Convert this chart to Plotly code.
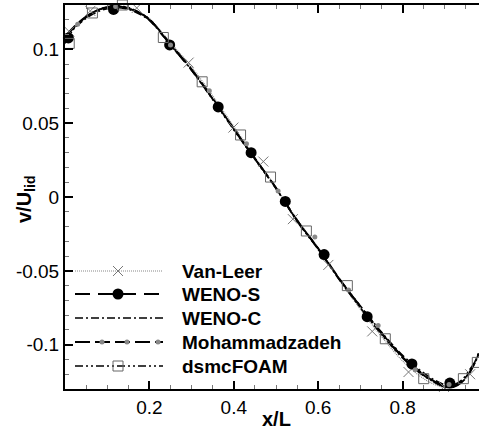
import plotly.graph_objects as go

# ---------------- data ----------------
xs = [0.00, 0.02, 0.04, 0.06, 0.08, 0.10, 0.12, 0.14, 0.16, 0.18, 0.20, 0.25, 0.30, 0.35, 0.40,
      0.45, 0.50, 0.55, 0.60, 0.65, 0.70, 0.75, 0.80, 0.84, 0.87, 0.90, 0.92, 0.94, 0.96, 0.98]

van_leer = [0.109, 0.1150, 0.1200, 0.1242, 0.1270, 0.1287, 0.1293, 0.1288, 0.1272, 0.1245, 0.1208,
            0.1045, 0.0880, 0.0685, 0.0478, 0.0270, 0.0065, -0.0150, -0.0345, -0.0560, -0.0760,
            -0.0945, -0.1110, -0.1210, -0.1262, -0.1290, -0.1288, -0.1255, -0.1185, -0.1070]
weno_s = [0.108, 0.1144, 0.1196, 0.1238, 0.1267, 0.1284, 0.1290, 0.1284, 0.1267, 0.1238, 0.1200,
          0.1030, 0.0860, 0.0665, 0.0460, 0.0260, 0.0060, -0.0160, -0.0350, -0.0555, -0.0740,
          -0.0920, -0.1080, -0.1180, -0.1240, -0.1280, -0.1283, -0.1250, -0.1180, -0.1060]
weno_c = [0.1075, 0.1138, 0.1188, 0.1228, 0.1257, 0.1275, 0.1282, 0.1277, 0.1261, 0.1233, 0.1196,
          0.1028, 0.0858, 0.0662, 0.0458, 0.0258, 0.0058, -0.0162, -0.0352, -0.0555, -0.0738,
          -0.0915, -0.1072, -0.1170, -0.1230, -0.1272, -0.1278, -0.1248, -0.1178, -0.1058]
mohammadzadeh = [0.1085, 0.1148, 0.1200, 0.1240, 0.1268, 0.1285, 0.1291, 0.1286, 0.1270, 0.1241, 0.1203,
                 0.1035, 0.0865, 0.0668, 0.0462, 0.0262, 0.0062, -0.0158, -0.0348, -0.0552, -0.0745,
                 -0.0925, -0.1085, -0.1185, -0.1245, -0.1285, -0.1288, -0.1255, -0.1185, -0.1065]
dsmcfoam = [0.104, 0.1135, 0.1193, 0.1240, 0.1270, 0.1288, 0.1295, 0.1290, 0.1273, 0.1243, 0.1204,
            0.1035, 0.0858, 0.0660, 0.0455, 0.0255, 0.0058, -0.0165, -0.0355, -0.0560, -0.0750,
            -0.0930, -0.1090, -0.1190, -0.1245, -0.1275, -0.1272, -0.1240, -0.1165, -0.1080]

# marker samples
vl_mx = [0.01, 0.06, 0.17, 0.293, 0.399, 0.47, 0.54, 0.624, 0.728, 0.814, 0.898, 0.96]
vl_my = [0.112, 0.126, 0.128, 0.091, 0.047, 0.024, -0.015, -0.046, -0.091, -0.1185, -0.1286, -0.120]
ws_mx = [0.008, 0.115, 0.248, 0.363, 0.441, 0.522, 0.614, 0.716, 0.822, 0.912, 0.982]
ws_my = [0.1077, 0.127, 0.103, 0.061, 0.030, -0.003, -0.039, -0.081, -0.113, -0.126, -0.106]
mz_mx = [0.03, 0.12, 0.25, 0.342, 0.43, 0.505, 0.592, 0.672, 0.742, 0.83, 0.91]
mz_my = [0.117, 0.129, 0.103, 0.072, 0.036, 0.004, -0.027, -0.063, -0.087, -0.117, -0.127]
ds_mx = [0.01, 0.065, 0.136, 0.233, 0.325, 0.416, 0.487, 0.572, 0.669, 0.759, 0.850, 0.944, 0.977]
ds_my = [0.104, 0.1246, 0.130, 0.108, 0.078, 0.042, 0.0135, -0.023, -0.060, -0.096, -0.123, -0.123, -0.112]

names = ["Van-Leer", "WENO-S", "WENO-C", "Mohammadzadeh", "dsmcFOAM"]
x_ticks = [0.2, 0.4, 0.6, 0.8]
y_ticks = [-0.1, -0.05, 0, 0.05, 0.1]
y_ticktext = ["-0.1", "-0.05", "0", "0.05", "0.1"]

# ---------------- styles ----------------
FONT = "Liberation Sans, Arial, Helvetica, sans-serif"
styles = [
    dict(line=dict(color="#888888", width=1.2, dash="1px,1px"),
         marker=dict(symbol="x-thin", size=10, color="#777777", line=dict(width=1, color="#777777"))),
    dict(line=dict(color="black", width=1.8, dash="15px,8px"),
         marker=dict(symbol="circle", size=11, color="black")),
    dict(line=dict(color="black", width=1.6, dash="8px,3px,2px,3px"), marker=None),
    dict(line=dict(color="black", width=1.8, dash="15px,5px"),
         marker=dict(symbol="circle", size=5, color="#888888")),
    dict(line=dict(color="black", width=1.6, dash="8px,3px,2px,3px,2px,3px"),
         marker=dict(symbol="square-open", size=10, color="#666666", line=dict(width=1, color="#666666"))),
]
series = [van_leer, weno_s, weno_c, mohammadzadeh, dsmcfoam]
markers = [(vl_mx, vl_my), (ws_mx, ws_my), None, (mz_mx, mz_my), (ds_mx, ds_my)]

fig = go.Figure()
for ys, st in zip(series, styles):
    fig.add_trace(go.Scatter(x=xs, y=ys, mode="lines", line=st["line"], line_shape="spline",
                             showlegend=False, hoverinfo="skip"))
for mk, st in zip(markers, styles):
    if mk is None:
        continue
    fig.add_trace(go.Scatter(x=mk[0], y=mk[1], mode="markers", marker=st["marker"],
                             showlegend=False, cliponaxis=False, hoverinfo="skip"))

# ---------------- manual legend (overlay axis in pixel units) ----------------
leg_rows = [271, 294, 318, 342, 366]
leg_x0, leg_x1, leg_mid, leg_text = 75, 163, 118, 180
for i, (name, st) in enumerate(zip(names, styles)):
    yy = leg_rows[i]
    fig.add_trace(go.Scatter(x=[leg_x0, leg_x1], y=[yy, yy], mode="lines", line=st["line"],
                             xaxis="x2", yaxis="y2", showlegend=False, hoverinfo="skip"))
    if st["marker"] is not None:
        if name == "Mohammadzadeh":
            mx = [102, 127, 158]
        else:
            mx = [leg_mid]
        fig.add_trace(go.Scatter(x=mx, y=[yy] * len(mx), mode="markers", marker=st["marker"],
                                 xaxis="x2", yaxis="y2", showlegend=False, hoverinfo="skip"))
    fig.add_annotation(x=leg_text, y=yy, xref="x2", yref="y2", text="<b>%s</b>" % name,
                       showarrow=False, xanchor="left", yanchor="middle",
                       font=dict(family=FONT, size=19, color="black"))

# axis titles (paper coordinates, plot area is 414 x 384 px)
fig.add_annotation(x=(25 - 65) / 414, y=(389 - 200) / 384, xref="paper", yref="paper",
                   text="<b>v/U<sub>lid</sub></b>", textangle=-90, showarrow=False,
                   xanchor="center", yanchor="middle",
                   font=dict(family=FONT, size=20, color="black"))
fig.add_annotation(x=(276 - 65) / 414, y=(389 - 419) / 384, xref="paper", yref="paper",
                   text="<b>x/L</b>", showarrow=False, xanchor="center", yanchor="middle",
                   font=dict(family=FONT, size=20, color="black"))

fig.update_layout(
    width=479, height=434,
    margin=dict(l=65, r=0, t=5, b=45),
    paper_bgcolor="white", plot_bgcolor="white",
    showlegend=False,
    font=dict(family=FONT, size=19, color="black"),
    xaxis=dict(range=[0, 0.981], tickmode="array", tickvals=x_ticks,
               ticks="inside", ticklen=8, tickwidth=2, tickcolor="black",
               showline=True, linewidth=2, linecolor="black", mirror="allticks",
               showgrid=False, zeroline=False,
               minor=dict(dtick=0.05, tick0=0, ticks="inside", ticklen=4, tickwidth=1,
                          tickcolor="#777777", showgrid=False)),
    yaxis=dict(range=[-0.13, 0.13], tickmode="array", tickvals=y_ticks, ticktext=y_ticktext,
               ticks="inside", ticklen=8, tickwidth=2, tickcolor="black",
               showline=True, linewidth=2, linecolor="black", mirror=False,
               showgrid=False, zeroline=False,
               minor=dict(dtick=0.01, tick0=0, ticks="inside", ticklen=4, tickwidth=1,
                          tickcolor="#777777", showgrid=False)),
    xaxis2=dict(range=[65, 479], overlaying="x", visible=False, fixedrange=True),
    yaxis2=dict(range=[389, 5], overlaying="y", visible=False, fixedrange=True),
)

fig.write_html("out.html")
